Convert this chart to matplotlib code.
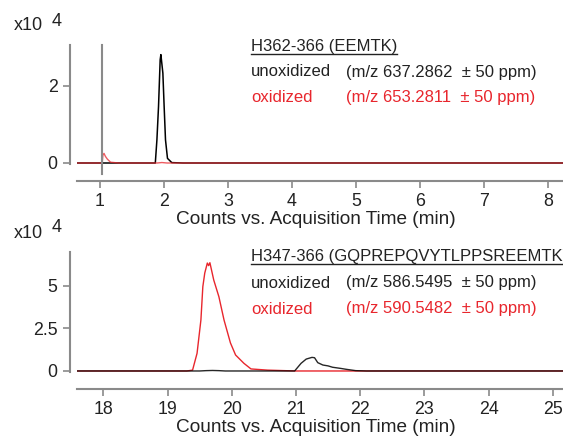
import matplotlib
matplotlib.use("Agg")
import matplotlib.pyplot as plt
from matplotlib.lines import Line2D

plt.rcParams['font.family'] = ['Liberation Sans', 'DejaVu Sans']

W, H = 563, 438
RED = '#e8262d'
GRAY = '#8a8a8a'

# ---- data (intensity in units of x10^4 counts) ----
top_t_unox = [0.65, 1.0, 1.8, 1.868, 1.893, 1.918, 1.944, 1.955, 1.986, 2.006, 2.027, 2.058, 2.125, 2.3, 8.23]
top_i_unox = [0.0, 0.0, 0.0, 0.0, 0.6, 1.46, 2.68, 2.81, 2.33, 1.46, 0.6, 0.12, 0.01, 0.0, 0.0]
top_t_ox = [0.65, 1.04, 1.05, 1.067, 1.09, 1.12, 1.17, 1.3, 1.9, 1.97, 2.05, 2.2, 8.23]
top_i_ox = [0.0, 0.0, 0.2, 0.25, 0.17, 0.1, 0.02, 0.0, 0.0, 0.012, 0.0, 0.0, 0.0]
marker_t = 1.036

bot_t_unox = [17.59, 19.5, 19.6, 19.7, 19.8, 19.9, 20.98, 21.08, 21.16, 21.25, 21.29, 21.34,
              21.42, 21.5, 21.57, 21.7, 21.78, 21.93, 22.1, 25.16]
bot_i_unox = [0.0, 0.0, 0.02, 0.03, 0.02, 0.0, 0.0, 0.45, 0.7, 0.8, 0.78, 0.49,
              0.35, 0.3, 0.22, 0.15, 0.1, 0.02, 0.0, 0.0]
bot_t_ox = [17.59, 19.3, 19.39, 19.46, 19.52, 19.55, 19.58, 19.62, 19.64, 19.66, 19.72, 19.8,
            19.88, 19.98, 20.06, 20.19, 20.3, 20.56, 21.0, 25.16]
bot_i_ox = [0.0, 0.0, 0.05, 1.04, 3.0, 4.96, 5.76, 6.35, 6.2, 6.37, 5.35, 4.37,
            3.0, 1.65, 0.94, 0.45, 0.12, 0.05, 0.0, 0.0]

panels = [
    dict(t_u=top_t_unox, i_u=top_i_unox, t_o=top_t_ox, i_o=top_i_ox,
         xlim=(0.646, 8.23), ylim=(-0.026, 3.06), yticks=[0, 2], yticklabels=['0', '2'],
         xticks=[1, 2, 3, 4, 5, 6, 7, 8], box=(45, 164),
         title='H362-366 (EEMTK)', unox='(m/z 637.2862  \u00b1 50 ppm)',
         ox='(m/z 653.2811  \u00b1 50 ppm)', text_y=(47, 72, 98), exp_y=26, xlab_y=219),
    dict(t_u=bot_t_unox, i_u=bot_i_unox, t_o=bot_t_ox, i_o=bot_i_ox,
         xlim=(17.59, 25.16), ylim=(-0.06, 7.0), yticks=[0, 2.5, 5], yticklabels=['0', '2.5', '5'],
         xticks=[18, 19, 20, 21, 22, 23, 24, 25], box=(252, 372),
         title='H347-366 (GQPREPQVYTLPPSREEMTK)', unox='(m/z 586.5495  \u00b1 50 ppm)',
         ox='(m/z 590.5482  \u00b1 50 ppm)', text_y=(257, 283, 309), exp_y=233, xlab_y=428),
]

fig = plt.figure(figsize=(W / 100, H / 100), dpi=100)


def fx(x):
    return x / W


def fy(y):
    return 1 - y / H


titles = []
for p in panels:
    top, bot = p['box']
    ax = fig.add_axes([fx(77), fy(bot), fx(563) - fx(77), (bot - top) / H])
    if p is panels[0]:
        ax.plot(p['t_u'], p['i_u'], color='black', lw=1.1, zorder=2)
        ax.plot(p['t_o'], p['i_o'], color=RED, lw=1.0, alpha=0.75, zorder=3)
        ax.axvline(marker_t, ymin=-0.085, ymax=1.0, color=GRAY, lw=1.5, clip_on=False, zorder=4)
    else:
        ax.plot(p['t_o'], p['i_o'], color=RED, lw=1.0, zorder=2)
        ax.plot(p['t_u'], p['i_u'], color='black', lw=1.0, alpha=0.85, zorder=3)
    ax.set_xlim(*p['xlim'])
    ax.set_ylim(*p['ylim'])
    ax.set_xticks(p['xticks'])
    ax.set_yticks(p['yticks'])
    ax.set_yticklabels(p['yticklabels'])
    for s in ['top', 'right']:
        ax.spines[s].set_visible(False)
    ax.spines['left'].set_position(('outward', 5))
    ax.spines['bottom'].set_position(('outward', 12))
    for s in ['left', 'bottom']:
        ax.spines[s].set_color(GRAY)
        ax.spines[s].set_linewidth(1.5)
    ax.tick_params(direction='out', length=5, width=1.2, color=GRAY,
                   labelsize=12.8, labelcolor='#222222', pad=4)
    ax.patch.set_visible(False)

    fig.text(fx(316), fy(p['xlab_y']), 'Counts vs. Acquisition Time (min)',
             ha='center', va='center', fontsize=13.7, color='#222222')
    fig.text(fx(14), fy(p['exp_y']), 'x10', ha='left', va='center', fontsize=13, color='#222222')
    fig.text(fx(52), fy(p['exp_y'] - 5), '4', ha='left', va='center', fontsize=13, color='#222222')

    ty = p['text_y']
    t = fig.text(fx(251), fy(ty[0]), p['title'], ha='left', va='center', fontsize=12, color='#222222')
    titles.append(t)
    fig.text(fx(251), fy(ty[1]), 'unoxidized', ha='left', va='center', fontsize=12, color='#222222')
    fig.text(fx(346), fy(ty[1]), p['unox'], ha='left', va='center', fontsize=12, color='#222222')
    fig.text(fx(251), fy(ty[2]), 'oxidized', ha='left', va='center', fontsize=12, color=RED)
    fig.text(fx(346), fy(ty[2]), p['ox'], ha='left', va='center', fontsize=12, color=RED)

# underline the peptide titles
fig.canvas.draw()
r = fig.canvas.get_renderer()
for t in titles:
    bb = t.get_window_extent(r)
    yl = bb.y0 + 1
    fig.add_artist(Line2D([bb.x0 / W, bb.x1 / W], [yl / H, yl / H], color='#222222', lw=1.0))

fig.savefig('out.png', dpi=100)
